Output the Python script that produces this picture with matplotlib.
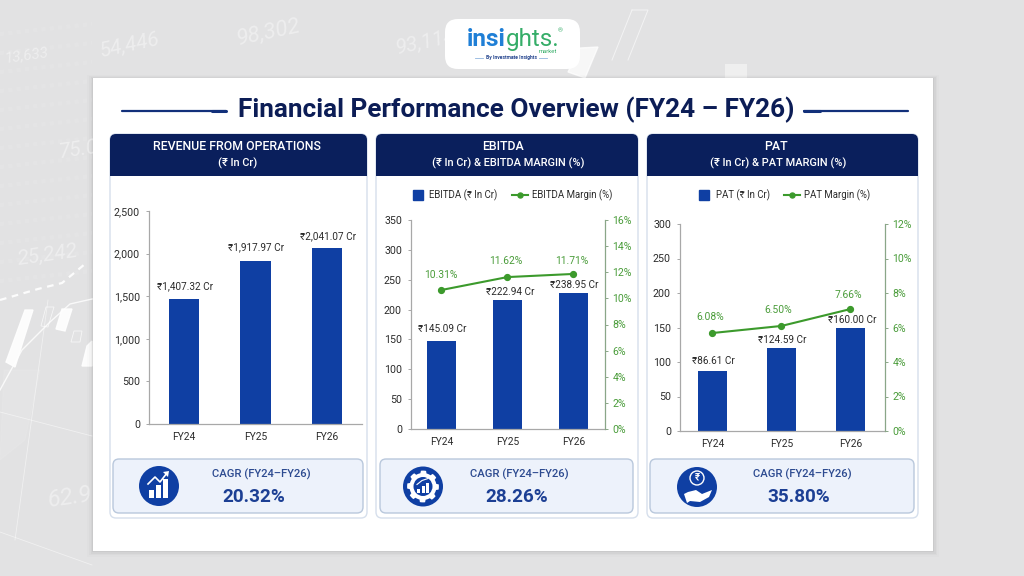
import numpy as np
import matplotlib
matplotlib.use("Agg")
import matplotlib.pyplot as plt
from matplotlib.lines import Line2D
from matplotlib.patches import Circle, FancyBboxPatch, Polygon, Rectangle

plt.rcParams["font.family"] = ["Roboto", "DejaVu Sans"]

W, H = 1024, 576
NAVY = "#0a1f5c"
BLUE = "#0f3fa3"
GREEN = "#3c9a2c"
GREEN_TXT = "#4a9c3a"
GREY = "#a8a8a8"
TXT = "#2b2b2b"

years = ["FY24", "FY25", "FY26"]

revenue_bars = [1467, 1913, 2065]
revenue_labels = ["₹1,407.32 Cr", "₹1,917.97 Cr", "₹2,041.07 Cr"]
revenue_ticks = [0, 500, 1000, 1500, 2000, 2500]

ebitda_bars = [147, 216, 227]
ebitda_labels = ["₹145.09 Cr", "₹222.94 Cr", "₹238.95 Cr"]
ebitda_ticks = [0, 50, 100, 150, 200, 250, 300, 350]
ebitda_margin = [10.64, 11.63, 11.87]
ebitda_margin_labels = ["10.31%", "11.62%", "11.71%"]
ebitda_margin_ticks = [0, 2, 4, 6, 8, 10, 12, 14, 16]

pat_bars = [87, 121, 149]
pat_labels = ["₹86.61 Cr", "₹124.59 Cr", "₹160.00 Cr"]
pat_ticks = [0, 50, 100, 150, 200, 250, 300]
pat_margin = [5.68, 6.09, 7.07]
pat_margin_labels = ["6.08%", "6.50%", "7.66%"]
pat_margin_ticks = [0, 2, 4, 6, 8, 10, 12]

cagr_values = ["20.32%", "28.26%", "35.80%"]

fig = plt.figure(figsize=(W / 100, H / 100), dpi=100, facecolor="#e2e2e3")

# full figure layer in pixel coordinates for the cards and decoration
px = fig.add_axes([0, 0, 1, 1], zorder=0)
px.set_xlim(0, W)
px.set_ylim(H, 0)
px.axis("off")


def round_box(x0, y0, x1, y1, r, **kw):
    p = FancyBboxPatch((x0 + r, y0 + r), x1 - x0 - 2 * r, y1 - y0 - 2 * r,
                       boxstyle="round,pad=%f,rounding_size=%f" % (r, r), **kw)
    px.add_patch(p)
    return p


def add_axes_px(x0, y0, x1, y1):
    return fig.add_axes([x0 / W, 1 - y1 / H, (x1 - x0) / W, (y1 - y0) / H], zorder=2)


# background decoration
for s, x, y, rot, fs in [("13,633", 26, 55, 8, 11), ("54,446", 130, 45, 12, 15),
                         ("98,302", 268, 32, 12, 16), ("93,114", 425, 42, 12, 15),
                         ("25,242", 48, 255, 8, 15), ("75.0", 78, 150, 8, 15),
                         ("62.9", 70, 497, 8, 17)]:
    px.text(x, y, s, color="white", alpha=0.4, fontsize=fs, style="italic",
            rotation=rot, ha="center", va="center")
for i in range(14):
    y = 30 + i * 19
    px.plot([0, 92], [y + 4, y - 6], color="white", alpha=0.09, lw=3, ls=(0, (1, 1)))
px.plot([0, 38, 62, 85], [300, 289, 283, 264], color="white", lw=1.6, ls=(0, (3, 2.5)), alpha=0.9)
px.plot([0, 22, 50, 70, 92], [390, 350, 322, 304, 299], color="white", lw=1, alpha=0.8)
px.plot([0, 92], [412, 436], color="white", lw=0.6, alpha=0.5)
px.plot([0, 92], [532, 565], color="white", lw=0.6, alpha=0.5)
px.plot([15, 48], [540, 300], color="white", lw=0.6, alpha=0.5)
px.add_patch(Polygon([(25, 310), (33, 310), (15, 367), (6, 362)], color="white", alpha=0.9))
px.add_patch(Polygon([(62, 309), (72, 309), (65, 331), (56, 329)], color="white", alpha=0.9))
px.add_patch(Polygon([(87, 346), (92, 341), (92, 366), (82, 366)], color="white", alpha=0.9))
px.add_patch(Polygon([(46, 307), (54, 307), (48, 327), (41, 326)], fill=False, ec="white", lw=0.6, alpha=0.7))
px.add_patch(Polygon([(74, 331), (82, 331), (80, 342), (71, 342)], fill=False, ec="white", lw=0.6, alpha=0.7))
px.add_patch(Polygon([(4, 370), (40, 370), (25, 440), (0, 460)], color="white", alpha=0.08))
px.plot([632, 648, 628], [10, 10, 60], color="white", lw=0.7, alpha=0.6)
px.plot([632, 612], [10, 60], color="white", lw=0.7, alpha=0.6)
px.add_patch(Rectangle((725, 64), 22, 14, color="white", alpha=0.45, lw=0))
px.add_patch(Polygon([(580, 48), (598, 47), (585, 78), (568, 72)], color="white", alpha=0.75))

# main white sheet with a soft shadow
for grow, a in [(6, 0.012), (4, 0.02), (2.5, 0.03), (1, 0.04)]:
    px.add_patch(Rectangle((93 - grow, 78 - grow / 2), 840 + 2 * grow, 473 + grow * 1.5,
                           color="black", alpha=a, lw=0))
px.add_patch(Rectangle((93, 78), 840, 473, color="white", lw=0))

# logo
round_box(445, 19, 580, 69, 13, fc="white", ec="none")
px.text(506, 46, "insi", color="#1f7fd6", fontsize=17.5, fontweight="bold", ha="right", va="baseline")
px.text(506, 46, "ghts.", color="#35ad68", fontsize=17.5, ha="left", va="baseline")
px.text(560, 31, "®", color="#35ad68", fontsize=4.5, ha="center", va="center")
px.text(557, 51.5, "market", color="#35ad68", fontsize=4.2, ha="right", va="center")
px.text(511, 57.5, "By Investmate Insights", color="#26468f", fontsize=3.6, fontweight="bold", ha="center", va="center")
px.plot([475, 483], [57.5, 57.5], color="#8fb4de", lw=0.6)
px.plot([539, 547], [57.5, 57.5], color="#8fb4de", lw=0.6)

# title
px.text(516, 110, "Financial Performance Overview (FY24 – FY26)", color="#0c1d56",
        fontsize=18.8, fontweight="bold", ha="center", va="center")
for a, b, c, d in [(122, 226, 212, 226), (804, 908, 804, 820)]:
    px.plot([a, b], [110.5, 110.5], color="#12307a", lw=1.6, solid_capstyle="round")
    px.plot([c, d], [110.5, 110.5], color="#12307a", lw=2.2, solid_capstyle="round")


def card(x0, x1, line1, line2, cx1, cx2):
    c = round_box(x0, 134, x1, 518, 6, fc="white", ec="#d6dfec", lw=1)
    head = Rectangle((x0, 134), x1 - x0, 41.5, color=NAVY, lw=0)
    px.add_patch(head)
    head.set_clip_path(c)
    px.text(cx1, 147, line1, color="white", fontsize=8.9, fontweight="medium", ha="center", va="center")
    px.text(cx2, 163, line2, color="white", fontsize=7.9, fontweight="medium", ha="center", va="center")


def cagr_box(x0, x1, cx1, cx2, value):
    round_box(x0, 459, x1, 513, 6, fc="#edf2fb", ec="#b9c8dc", lw=1)
    px.text(cx1, 474, "CAGR (FY24–FY26)", color="#2c4a90", fontsize=8.1, fontweight="medium", ha="center", va="center")
    px.text(cx2, 496.5, value, color="#1c3f94", fontsize=13.6, fontweight="bold", ha="center", va="center")


def bar_panel(rect, xlim, width, bars, labels, ticks, top, fmt, offs):
    ax = add_axes_px(*rect)
    ax.patch.set_alpha(0)
    x = np.arange(len(years))
    b = ax.bar(x, bars, width=width, color=BLUE, zorder=2)
    ax.set_xlim(*xlim)
    ax.set_ylim(0, top)
    ax.set_xticks(x, years)
    ax.set_yticks(ticks, [fmt.format(t) for t in ticks])
    ax.tick_params(axis="x", length=0, pad=6, labelsize=7.4, labelcolor=TXT)
    ax.tick_params(axis="y", length=2.5, width=0.7, color=GREY, pad=4, labelsize=7.7, labelcolor=TXT)
    for s in ["top", "right"]:
        ax.spines[s].set_visible(False)
    for s in ["left", "bottom"]:
        ax.spines[s].set_color(GREY)
        ax.spines[s].set_linewidth(0.9)
    for r, lab, o in zip(b, labels, offs):
        ax.annotate(lab, (r.get_x() + r.get_width() / 2, r.get_height()), xytext=(o[0] * 0.72, o[1] * 0.72),
                    textcoords="offset points", ha="center", va="center", fontsize=7.2, color=TXT, zorder=5)
    return ax


def margin_line(ax, values, labels, ticks, top, offs, name_bar, name_line, legend_x):
    ax2 = ax.twinx()
    ax2.patch.set_alpha(0)
    x = np.arange(len(years))
    ax2.plot(x, values, color=GREEN, lw=1.5, marker="o", ms=4.2, zorder=4)
    ax2.set_ylim(0, top)
    ax2.set_yticks(ticks, ["%d%%" % t for t in ticks])
    ax2.tick_params(axis="y", length=2.5, width=0.7, color="#8aa688", pad=3, labelsize=7.6, labelcolor=GREEN_TXT)
    for s in ["top", "left", "bottom"]:
        ax2.spines[s].set_visible(False)
    ax2.spines["right"].set_color("#8aa688")
    ax2.spines["right"].set_linewidth(0.9)
    for xi, v, lab, o in zip(x, values, labels, offs):
        ax2.annotate(lab, (xi, v), xytext=(o[0] * 0.72, o[1] * 0.72), textcoords="offset points",
                     ha="center", va="center", fontsize=7.4, color=GREEN_TXT)
    handles = [Line2D([], [], ls="none", marker="s", ms=7.2, color=BLUE, label=name_bar),
               Line2D([], [], color=GREEN, lw=1.5, marker="o", ms=3.6, label=name_line)]
    ax2.legend(handles=handles, ncol=2, loc="center", bbox_to_anchor=(legend_x, 195),
               bbox_transform=px.transData, frameon=False, fontsize=6.9, handlelength=1.7,
               handletextpad=0.35, columnspacing=1.5, labelcolor=TXT)


def chart_icon(cx, cy):
    for dx, top in [(-10.5, 4), (-3.5, -1), (3.5, -7)]:
        px.add_patch(Rectangle((cx + dx, cy + top), 5, 11.5 - top, color="white", lw=0))
    px.plot([cx - 11, cx - 4, cx + 1, cx + 8], [cy - 2, cy - 9, cy - 4, cy - 13], color="white", lw=1.2)
    px.add_patch(Polygon([(cx + 10, cy - 15), (cx + 4, cy - 14), (cx + 9, cy - 9)], color="white", lw=0))


def gear_icon(cx, cy):
    ang = np.linspace(0, 2 * np.pi, 97)
    rad = 13.5 + 2.4 * (np.cos(8 * ang) > 0)
    px.add_patch(Polygon(np.c_[cx + rad * np.cos(ang), cy + rad * np.sin(ang)], color="white", lw=0))
    px.add_patch(Circle((cx, cy), 9.5, color=BLUE, lw=0))
    for dx, top in [(-6, 2), (-1.5, -1), (3, -4)]:
        px.add_patch(Rectangle((cx + dx, cy + top), 3, 6.5 - top, color="white", lw=0))
    px.plot([cx - 6, cx - 1, cx + 5], [cy - 2, cy - 6, cy - 8], color="white", lw=0.8)


def hand_icon(cx, cy):
    px.add_patch(Circle((cx, cy - 9), 7, fc="none", ec="white", lw=1))
    px.text(cx, cy - 9, "₹", color="white", fontsize=7, fontweight="bold", ha="center", va="center")
    px.add_patch(Polygon([(cx - 13, cy + 7), (cx - 9, cy + 5), (cx - 1, cy + 3), (cx + 5, cy + 7),
                          (cx + 15, cy + 3), (cx + 12, cy + 10), (cx + 3, cy + 15), (cx - 7, cy + 14),
                          (cx - 10, cy + 16)], color="white", lw=0))


card(110, 367, "REVENUE FROM OPERATIONS", "(₹ In Cr)", 237, 238)
card(376, 638, "EBITDA", "(₹ In Cr) & EBITDA MARGIN (%)", 503, 508)
card(647, 918, "PAT", "(₹ In Cr) & PAT MARGIN (%)", 776, 778)

cagr_box(113, 363, 261, 254, cagr_values[0])
cagr_box(380, 633, 519, 517, cagr_values[1])
cagr_box(650, 914, 802, 799, cagr_values[2])

for cx, cy, icon in [(159, 486, chart_icon), (423, 486.5, gear_icon), (697, 487, hand_icon)]:
    px.add_patch(Circle((cx, cy), 20, color=BLUE, lw=0))
    icon(cx, cy)

bar_panel((149, 211, 362, 424), (-0.49, 2.49), 0.42, revenue_bars, revenue_labels,
          revenue_ticks, 2500, "{:,}", [(1, 13), (1, 14), (1, 12)])

ax_e = bar_panel((411, 220, 605, 429), (-0.46, 2.48), 0.44, ebitda_bars, ebitda_labels,
                 ebitda_ticks, 350, "{}", [(0.5, 12), (2.5, 8), (0.5, 8)])
margin_line(ax_e, ebitda_margin, ebitda_margin_labels, ebitda_margin_ticks, 16,
            [(-0.5, 15), (-1.5, 16), (-1.5, 13)], "EBITDA (₹ In Cr)", "EBITDA Margin (%)", 511)

ax_p = bar_panel((680, 224, 885, 431), (-0.47, 2.5), 0.42, pat_bars, pat_labels,
                 pat_ticks, 300, "{}", [(0.5, 10), (0.5, 8), (1.5, 8)])
margin_line(ax_p, pat_margin, pat_margin_labels, pat_margin_ticks, 12,
            [(-2, 16), (-3, 16), (-2, 14)], "PAT (₹ In Cr)", "PAT Margin (%)", 783)

fig.savefig("out.png", dpi=100, facecolor=fig.get_facecolor())
